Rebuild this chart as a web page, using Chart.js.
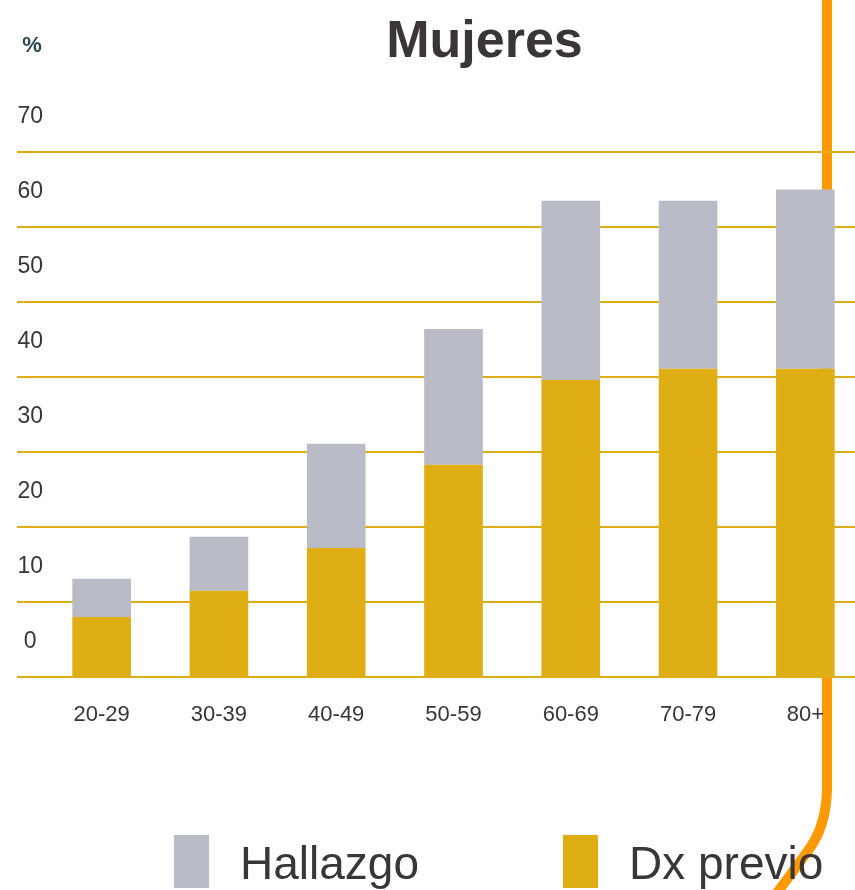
<!DOCTYPE html>
<html lang="es">
<head>
<meta charset="UTF-8">
<title>Mujeres</title>
<script src="https://cdn.jsdelivr.net/npm/chart.js"></script>
<style>
html,body{margin:0;padding:0;background:#fff;overflow:hidden;}
body{width:855px;height:890px;position:relative;font-family:Arial,"Liberation Sans",sans-serif;}
#wrap{position:absolute;left:0;top:0;width:870px;height:890px;}
#legend{position:absolute;left:174px;top:835px;display:flex;gap:144px;}
.item{display:flex;align-items:flex-start;}
.box{width:35px;height:53px;margin-right:31px;}
.lbl{font-size:46px;line-height:53px;color:#3a3536;position:relative;top:2px;white-space:nowrap;}
</style>
</head>
<body>

<div id="wrap"><canvas id="chart" width="870" height="890"></canvas></div>
<div id="legend"></div>

<script>

const categories = ['20-29','30-39','40-49','50-59','60-69','70-79','80+'];
const dxPrevio = [8.0, 11.5, 17.2, 28.3, 39.6, 41.1, 41.1];
const hallazgo = [5.1, 7.2, 13.9, 18.1, 23.9, 22.4, 23.9];
const yTicks = [0,10,20,30,40,50,60,70];

const gold = '#dfad14';
const gray = '#b9bcc6';
const textColor = '#3a3536';

// orange slide line + "%" label
const decor = {
    id:'decor',
    beforeDraw(chart){
        const c = chart.ctx;
        c.save();
        c.strokeStyle = '#ff9900';
        c.lineWidth = 10;
        c.beginPath();
        c.moveTo(827,0);
        c.lineTo(827,790);
        c.quadraticCurveTo(826,825,810,848);
        c.lineTo(777,893);
        c.stroke();
        c.restore();
    },
    afterDraw(chart){
        const c = chart.ctx;
        c.save();
        c.fillStyle = '#2a4a50';
        c.font = 'bold 22px Arial';
        c.textAlign = 'center';
        c.textBaseline = 'middle';
        c.fillText('%', 32, 46);
        c.restore();
    },
    afterLayout(chart){
        // title sits right of centre in the slide
        if(chart.titleBlock){
            chart.titleBlock.left += 44;
            chart.titleBlock.right += 44;
        }
    }
};

const chart = new Chart(document.getElementById('chart'),{
    type:'bar',
    data:{
        labels:categories,
        datasets:[
            {label:'Dx previo', data:dxPrevio, backgroundColor:gold},
            {label:'Hallazgo', data:hallazgo, backgroundColor:gray}
        ]
    },
    options:{
        responsive:false,
        animation:false,
        layout:{padding:{left:17,right:6,top:0,bottom:0}},
        datasets:{bar:{barPercentage:0.5,categoryPercentage:1.0}},
        plugins:{
            legend:{display:false},
            tooltip:{enabled:false},
            title:{
                display:true,
                text:'Mujeres',
                color:textColor,
                font:{family:'Arial',size:52,weight:'bold'},
                padding:{top:11,bottom:78.6}
            }
        },
        scales:{
            x:{
                stacked:true,
                grid:{display:false,drawTicks:false},
                border:{display:false},
                ticks:{color:textColor,font:{family:'Arial',size:22},padding:25},
                afterFit(s){ s.height = 213; }
            },
            y:{
                stacked:true,
                min:0,
                max:70,
                afterBuildTicks(s){ s.ticks = yTicks.map(v=>({value:v})); },
                grid:{color:gold,lineWidth:2,tickLength:26,tickColor:gold,tickWidth:2},
                border:{display:false},
                ticks:{
                    color:textColor,
                    font:{family:'Arial',size:23},
                    crossAlign:'center',
                    padding:-26,
                    labelOffset:-35
                },
                afterFit(s){ s.width = 26; }
            }
        }
    },
    plugins:[decor]
});

// legend in slide order
const legend = document.getElementById('legend');
chart.data.datasets.slice().reverse().forEach(ds=>{
    const item = document.createElement('div');
    item.className = 'item';
    item.innerHTML = `<div class="box" style="background:${ds.backgroundColor}"></div><span class="lbl">${ds.label}</span>`;
    legend.appendChild(item);
});

</script>
</body>
</html>
